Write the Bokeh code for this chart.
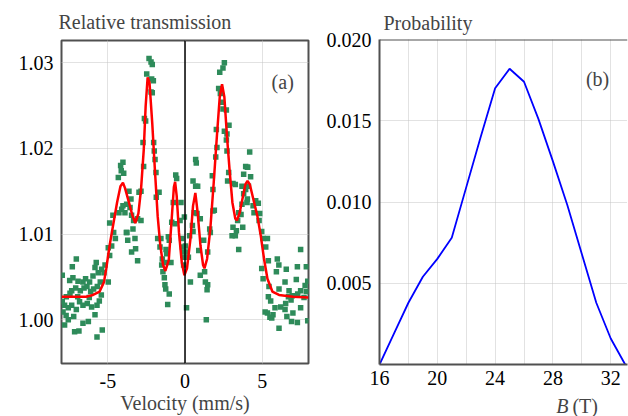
from bokeh.plotting import figure
from bokeh.layouts import row, column
from bokeh.models import FixedTicker, Span, Label, NumeralTickFormatter
from bokeh.embed import file_html
from bokeh.resources import INLINE

FONT = "Liberation Serif"
BORDER = "#505050"
GRID = "#c4c4c4"

# ---------------- data: panel (a) ----------------
vel_pts = [
    -4.02, -4.17, -4.13, -3.97, -4.32, -4.02, -4.28, -4.67, -4.10, -3.89,
    -4.88, -4.62, -4.51, -4.75, -4.97, -4.88, -3.80, -5.18, -5.40, -5.75,
    -5.83, -5.62, -5.25, -4.97, -5.49, -5.96, -6.44, -6.61, -6.18, -6.93,
    -7.26, -7.47, -7.04, -7.30, -7.95, -7.34, -7.08, -6.78, -6.54, -6.35,
    -6.11, -5.92, -5.68, -5.42, -7.80, -7.56, -7.90, -7.34, -7.04, -6.83,
    -6.61, -6.33, -6.05, -5.70, -5.83, -7.21, -7.56, -7.80, -6.61, -6.26,
    -7.15, -6.87, -5.36, -5.70, -7.69, -7.95, -7.70, -7.45, -6.95, -6.20,
    -5.55,
    -2.33, -2.20, -2.12, -2.48, -2.16, -2.05, -2.20, -2.12, -2.63, -2.55,
    -2.03, -2.72, -1.99, -1.94, -2.68, -1.88, -0.60, -0.54, -2.85, -2.98,
    -1.68, -1.86, -3.63, -0.76, -3.50, -3.78, -3.56, -0.26, -3.46, -3.33,
    -3.07, -2.85, -0.86, -0.65, -0.32, -0.04, -3.76, -3.71, -3.37, -3.24,
    -1.77, -1.56, -1.08, -1.02, -0.22, -0.17, -0.09, -3.20, -3.46, -3.07,
    -1.62, -1.47, -1.23, -1.19, -1.51, -1.25, -0.91, -1.43, -1.34, -1.30,
    -1.25, -1.02, -1.12, 0.10, -0.04,
    2.55, 2.46, 2.25, 2.18, 2.29, 2.40, 2.46, 2.68, 2.85, 2.55,
    2.72, 2.03, 2.68, 2.07, 1.99, 2.72, 0.69, 0.73, 3.93, 4.06,
    3.80, 1.77, 2.83, 3.11, 3.26, 0.52, 0.69, 0.82, 1.81, 2.76,
    3.69, 3.80, 4.02, 3.69, 3.48, 3.41, 3.63, 3.11, 3.33, 3.05,
    3.26, 3.74, 1.81, 1.90, 0.60, 0.78, 0.99, 0.48, 0.52, 1.60,
    1.64, 0.30, 1.21, 1.47, 0.89, 3.48, 0.02, 0.13, 0.22, -0.09,
    0.99, 0.35, 1.27, 1.32, 1.47, 1.43, 1.38,
    4.19, 4.04, 4.25, 4.11, 3.93, 4.04, 4.58, 4.75, 4.41, 4.47,
    4.84, 4.80, 4.97, 5.06, 5.34, 5.23, 7.49, 5.40, 5.98, 6.08,
    6.56, 5.92, 7.28, 7.86, 4.97, 5.06, 6.48, 7.21, 5.44, 6.09,
    7.78, 6.74, 7.49, 6.70, 6.95, 7.30, 7.86, 5.40, 5.55, 6.52,
    6.87, 7.71, 5.83, 6.20, 6.48, 5.34, 5.70, 5.62, 6.99, 7.28,
    6.09, 7.49, 7.95, 7.95, 5.19, 5.50, 6.60, 6.90,
]
trans_pts = [
    1.0184, 1.0180, 1.0174, 1.0171, 1.0166, 1.0133, 1.0125, 1.0122, 1.0129, 1.0125,
    1.0113, 1.0102, 1.0095, 1.0086, 1.0084, 1.0075, 1.0102, 1.0064, 1.0059, 1.0067,
    1.0061, 1.0055, 1.0055, 1.0044, 1.0044, 1.0051, 1.0048, 1.0044, 1.0044, 1.0045,
    1.0049, 1.0046, 1.0071, 1.0062, 1.0052, 1.0034, 1.0037, 1.0034, 1.0037, 1.0039,
    1.0033, 1.0036, 1.0039, 1.0029, 1.0017, 1.0014, 1.0009, 1.0017, 1.0012, 1.0021,
    1.0017, 1.0019, 1.0015, 1.0017, 1.0006, 1.0004, 1.0000, 0.9994, 0.9996, 0.9998,
    0.9986, 0.9987, 0.9988, 0.9980, 1.0027, 1.0021, 1.0005, 1.0031, 1.0027, 1.0026,
    1.0022,
    1.0305, 1.0301, 1.0298, 1.0287, 1.0281, 1.0279, 1.0266, 1.0265, 1.0235, 1.0232,
    1.0207, 1.0207, 1.0197, 1.0187, 1.0179, 1.0172, 1.0169, 1.0165, 1.0150, 1.0149,
    1.0149, 1.0143, 1.0150, 1.0137, 1.0141, 1.0135, 1.0131, 1.0137, 1.0122, 1.0116,
    1.0118, 1.0116, 1.0114, 1.0112, 1.0116, 1.0120, 1.0102, 1.0093, 1.0106, 1.0095,
    1.0095, 1.0095, 1.0097, 1.0093, 1.0095, 1.0085, 1.0079, 1.0083, 1.0079, 1.0069,
    1.0085, 1.0071, 1.0082, 1.0077, 1.0064, 1.0067, 1.0067, 1.0056, 1.0049, 1.0041,
    1.0036, 1.0030, 1.0018, 1.0014, 1.0073,
    1.0300, 1.0294, 1.0289, 1.0270, 1.0264, 1.0254, 1.0246, 1.0245, 1.0227, 1.0220,
    1.0217, 1.0222, 1.0210, 1.0201, 1.0190, 1.0197, 1.0187, 1.0183, 1.0179, 1.0178,
    1.0170, 1.0168, 1.0172, 1.0159, 1.0158, 1.0162, 1.0156, 1.0156, 1.0152, 1.0162,
    1.0156, 1.0147, 1.0137, 1.0135, 1.0125, 1.0116, 1.0123, 1.0108, 1.0104, 1.0098,
    1.0098, 1.0108, 1.0127, 1.0128, 1.0125, 1.0124, 1.0118, 1.0110, 1.0103, 1.0106,
    1.0102, 1.0098, 1.0093, 1.0079, 1.0081, 1.0082, 1.0086, 1.0079, 1.0073, 1.0064,
    1.0052, 1.0044, 1.0056, 1.0044, 1.0041, 1.0035, 1.0000,
    1.0196, 1.0178, 1.0167, 1.0156, 1.0152, 1.0141, 1.0139, 1.0136, 1.0133, 1.0125,
    1.0124, 1.0116, 1.0103, 1.0095, 1.0095, 1.0085, 1.0082, 1.0069, 1.0071, 1.0064,
    1.0059, 1.0056, 1.0062, 1.0062, 1.0060, 1.0048, 1.0044, 1.0047, 1.0039, 1.0036,
    1.0040, 1.0034, 1.0034, 1.0027, 1.0028, 1.0030, 1.0033, 1.0027, 1.0022, 1.0019,
    1.0023, 1.0026, 1.0014, 1.0015, 1.0012, 1.0008, 1.0006, 1.0002, 1.0008, 0.9997,
    0.9990, 1.0014, 0.9999, 1.0045, 1.0009, 1.0003, 1.0004, 0.9998,
]

fit_vel = [
    -8.00, -7.00, -6.40, -5.96, -5.53, -5.25, -5.10, -4.88, -4.66, -4.40,
    -4.18, -4.02, -3.89, -3.63, -3.41, -3.22, -3.02, -2.85, -2.67, -2.55,
    -2.42, -2.30, -2.12, -1.94, -1.77, -1.60, -1.42, -1.27, -1.05, -0.86,
    -0.72, -0.64, -0.54, -0.39, -0.21, -0.04, 0.13, 0.35, 0.52, 0.67,
    0.82, 1.00, 1.17, 1.26, 1.43, 1.64, 1.86, 2.08, 2.25, 2.40,
    2.55, 2.72, 2.90, 3.07, 3.26, 3.37, 3.54, 3.72, 3.91, 4.05,
    4.20, 4.37, 4.69, 4.91, 5.12, 5.34, 5.66, 6.09, 7.00, 8.00,
]
fit_trans = [
    1.0027, 1.0027, 1.0027, 1.0029, 1.0033, 1.0044, 1.0060, 1.0087, 1.0110, 1.0137,
    1.0156, 1.0160, 1.0154, 1.0137, 1.0122, 1.0113, 1.0124, 1.0152, 1.0199, 1.0249,
    1.0283, 1.0277, 1.0229, 1.0172, 1.0121, 1.0087, 1.0064, 1.0057, 1.0070, 1.0118,
    1.0155, 1.0161, 1.0145, 1.0102, 1.0067, 1.0052, 1.0060, 1.0094, 1.0133, 1.0148,
    1.0125, 1.0087, 1.0064, 1.0060, 1.0071, 1.0106, 1.0160, 1.0218, 1.0260, 1.0275,
    1.0260, 1.0214, 1.0172, 1.0137, 1.0118, 1.0116, 1.0125, 1.0141, 1.0158, 1.0162,
    1.0158, 1.0145, 1.0121, 1.0098, 1.0071, 1.0048, 1.0033, 1.0029, 1.0027, 1.0026,
]

vel_ticks = [-5, 0, 5]
vel_tick_labels = {-5: "-5", 0: "0", 5: "5"}
trans_ticks = [1.00, 1.01, 1.02, 1.03]

# ---------------- data: panel (b) ----------------
field_B = [16, 17, 18, 19, 20, 21, 22, 23, 24, 25, 26, 27, 28, 29, 30, 31, 32, 33]
prob = [0.0, 0.0019, 0.0038, 0.0054, 0.0065, 0.0078, 0.0109, 0.0140, 0.0170, 0.0182,
        0.0174, 0.0151, 0.0125, 0.0098, 0.0068, 0.0038, 0.0016, 0.0]

B_ticks = [16, 20, 24, 28, 32]
B_minor = [18, 22, 26, 30]
prob_ticks = [0.005, 0.010, 0.015, 0.020]


def style(p):
    p.background_fill_color = "white"
    p.border_fill_color = "white"
    for ax in (p.xaxis, p.yaxis):
        ax.major_tick_line_color = None
        ax.minor_tick_line_color = None
        ax.major_tick_out = 0
        ax.minor_tick_out = 0
        ax.major_label_text_font = FONT
        ax.major_label_text_font_size = "20px"
        ax.major_label_text_color = "black"
        ax.major_label_standoff = 8
    for g in (p.xgrid, p.ygrid):
        g.grid_line_color = GRID
        g.grid_line_dash = "1 1"
        g.grid_line_width = 1


# ---------------- panel (a) ----------------
ya0, ya1 = 0.9949, 1.0326
p1 = figure(width=313, height=416, x_range=(-8, 8), y_range=(ya0, ya1),
            output_backend="svg", toolbar_location=None,
            title="Relative transmission",
            min_border_left=61, min_border_right=5, min_border_top=39, min_border_bottom=51)
style(p1)
p1.title.text_font = FONT
p1.title.text_font_size = "20px"
p1.title.text_font_style = "normal"
p1.title.align = "left"
p1.title.standoff = 16
p1.title.offset = -3
p1.outline_line_color = BORDER
p1.outline_line_width = 2
p1.xaxis.axis_line_color = None
p1.yaxis.axis_line_color = None
p1.xaxis.ticker = FixedTicker(ticks=vel_ticks)
p1.xaxis.major_label_overrides = vel_tick_labels
p1.xaxis.major_label_standoff = 10
p1.yaxis.ticker = FixedTicker(ticks=trans_ticks)
p1.yaxis.formatter = NumeralTickFormatter(format="0.00")
p1.xaxis.axis_label = "Velocity (mm/s)"
p1.xaxis.axis_label_text_font = FONT
p1.xaxis.axis_label_text_font_size = "20px"
p1.xaxis.axis_label_text_font_style = "normal"
p1.xaxis.axis_label_standoff = 1

p1.add_layout(Span(location=0, dimension="height", line_color="black", line_width=1.5))
p1.scatter(vel_pts, trans_pts, marker="square", size=5.5, color="#2e8b5a", line_color=None)
p1.line(fit_vel, fit_trans, line_color="#ff0000", line_width=2.5)

p1.add_layout(Label(x=6.33, y=1.0277, text="(a)", text_font=FONT, text_font_size="20px",
                    text_align="center", text_baseline="middle"))

# ---------------- panel (b) ----------------
xb0, xb1 = 16, 33.16
yb0, yb1 = 0.0, 0.020
p2 = figure(width=315, height=392, x_range=(xb0, xb1), y_range=(yb0, yb1),
            output_backend="svg", toolbar_location=None,
            title="Probability",
            min_border_left=66, min_border_right=1, min_border_top=39, min_border_bottom=28)
style(p2)
p2.title.text_font = FONT
p2.title.text_font_size = "20px"
p2.title.text_font_style = "normal"
p2.title.align = "left"
p2.title.standoff = 12
p2.title.offset = 4
p2.outline_line_color = None
p2.xaxis.axis_line_color = BORDER
p2.yaxis.axis_line_color = BORDER
p2.xaxis.axis_line_width = 2
p2.yaxis.axis_line_width = 2
p2.xaxis.major_label_standoff = 6
p2.xaxis.ticker = FixedTicker(ticks=B_ticks, minor_ticks=B_minor)
p2.yaxis.ticker = FixedTicker(ticks=prob_ticks)
p2.yaxis.formatter = NumeralTickFormatter(format="0.000")
p2.xgrid.minor_grid_line_color = GRID
p2.xgrid.minor_grid_line_dash = "1 1"
p2.add_layout(Span(location=yb1, dimension="width", line_color=BORDER, line_width=2))

p2.line(field_B, prob, line_color="#0000ff", line_width=1.8)

p2.add_layout(Label(x=31.09, y=0.01758, text="(b)", text_font=FONT, text_font_size="20px",
                    text_align="center", text_baseline="middle"))

# ---------------- x-axis title of panel (b) ----------------
p3 = figure(width=315, height=24, x_range=(0, 315), y_range=(0, 24),
            output_backend="svg", toolbar_location=None, title=None,
            x_axis_location=None, y_axis_location=None,
            min_border_left=0, min_border_right=0, min_border_top=0, min_border_bottom=0)
p3.outline_line_color = None
p3.background_fill_color = "white"
p3.border_fill_color = "white"
p3.xgrid.visible = False
p3.ygrid.visible = False
p3.add_layout(Label(x=240, y=11, text="B", text_font=FONT, text_font_size="20px",
                    text_font_style="italic", text_align="right", text_baseline="middle"))
p3.add_layout(Label(x=245, y=11, text="(T)", text_font=FONT, text_font_size="20px",
                    text_align="left", text_baseline="middle"))

layout = row(p1, column(p2, p3))
open("out.html", "w").write(file_html(layout, INLINE))
